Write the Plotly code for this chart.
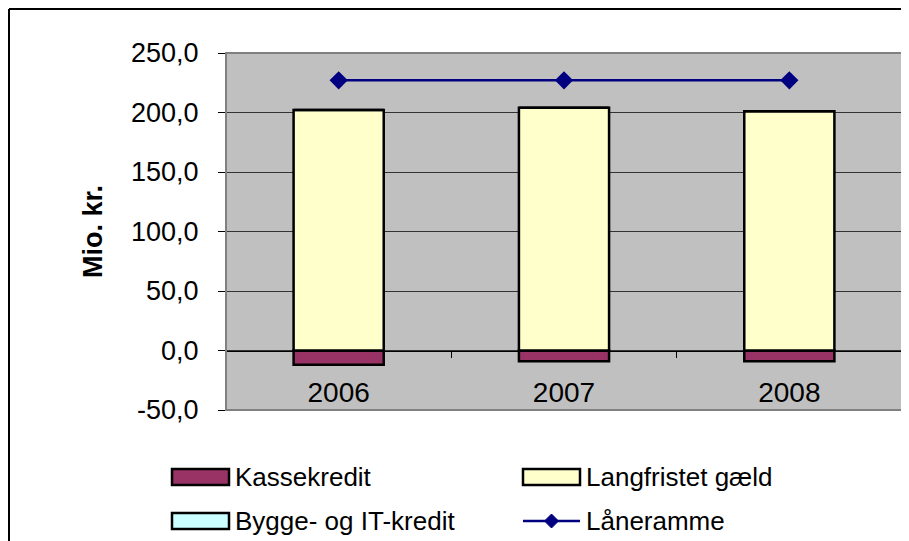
import plotly.graph_objects as go

years = ["2006", "2007", "2008"]
kassekredit = [-12.0, -9.0, -9.0]
langfristet = [202.0, 204.0, 201.0]
bygge_it = [0.0, 0.0, 0.0]
laaneramme = [227.0, 227.0, 227.0]
y_ticks = [-50, 0, 50, 100, 150, 200, 250]
y_ticktext = [f"{v:.1f}".replace(".", ",") for v in y_ticks]
series_names = ["Kassekredit", "Langfristet gæld", "Bygge- og IT-kredit", "Låneramme"]
bar_colors = ["#993366", "#FFFFCC", "#CCFFFF"]
line_color = "#000080"

# the page body adds an 8px margin; the figure is sized to fit the window
OFF = 8
W, H = 909 - OFF, 541 - OFF
L, R, T, B = 226 - OFF, 7, 53 - OFF, 131
PW, PH = W - L - R, H - T - B
ymin, ymax = -50, 250
zero_pos = (0 - ymin) / (ymax - ymin)

FONT = "Liberation Sans, Arial, sans-serif"
bar_line = dict(color="black", width=2.5)


def px_x(x):  # x in window pixels
    return (x - OFF - L) / PW


def px_y(y):  # y in window pixels
    return 1 - (y - OFF - T) / PH


fig = go.Figure()
for vals, name, col in zip([kassekredit, langfristet, bygge_it], series_names[:3], bar_colors):
    fig.add_trace(go.Bar(x=years, y=vals, name=name, showlegend=False,
                         marker=dict(color=col, line=bar_line), width=0.4))
fig.add_trace(go.Scatter(x=years, y=laaneramme, name=series_names[3], mode="lines+markers",
                         showlegend=False,
                         line=dict(color=line_color, width=2.5),
                         marker=dict(symbol="diamond", size=14, color=line_color)))

shapes = [
    dict(type="rect", xref="paper", yref="paper", x0=0, x1=1, y0=0, y1=1,
         line=dict(color="#808080", width=2), layer="above"),
    dict(type="line", xref="paper", yref="paper",
         x0=px_x(9), x1=px_x(915), y0=px_y(9), y1=px_y(9),
         line=dict(color="black", width=2)),
    dict(type="line", xref="paper", yref="paper",
         x0=px_x(9), x1=px_x(9), y0=px_y(545), y1=px_y(9),
         line=dict(color="black", width=2)),
]
annotations = []

# manual legend (Excel style wide swatches), 2 columns x 2 rows
leg_pos = [(172, 477), (523, 477), (172, 521), (523, 521)]
for i, name in enumerate(series_names):
    x0, yc = leg_pos[i]
    if i < 3:
        shapes.append(dict(type="rect", xref="paper", yref="paper",
                           x0=px_x(x0), x1=px_x(x0 + 57),
                           y0=px_y(yc + 8), y1=px_y(yc - 8),
                           fillcolor=bar_colors[i], line=dict(color="black", width=2.5)))
    else:
        shapes.append(dict(type="line", xref="paper", yref="paper",
                           x0=px_x(x0), x1=px_x(x0 + 57), y0=px_y(yc), y1=px_y(yc),
                           line=dict(color=line_color, width=2.5)))
        shapes.append(dict(type="path", xref="paper", yref="paper",
                           xsizemode="pixel", ysizemode="pixel",
                           xanchor=px_x(x0 + 28.5), yanchor=px_y(yc),
                           path="M 0 7 L 7 0 L 0 -7 L -7 0 Z",
                           fillcolor=line_color, line=dict(color=line_color, width=1)))
    annotations.append(dict(text=name, xref="paper", yref="paper",
                            x=px_x(x0 + 61), y=px_y(yc), xanchor="left", yanchor="middle",
                            showarrow=False, font=dict(size=26, family=FONT, color="black")))

fig.update_layout(
    width=W, height=H,
    margin=dict(l=L, r=R, t=T, b=B, pad=0),
    barmode="relative",
    paper_bgcolor="white",
    plot_bgcolor="#C0C0C0",
    font=dict(family=FONT, size=25, color="black"),
    showlegend=False,
    xaxis=dict(anchor="free", position=zero_pos, showline=True, linecolor="black",
               linewidth=1, ticks="outside", tickson="boundaries", ticklen=6,
               tickcolor="black", showgrid=False, ticklabelstandoff=17,
               tickfont=dict(size=28, family=FONT), range=[-0.5, 2.5]),
    yaxis=dict(range=[ymin, ymax], tickvals=y_ticks, ticktext=y_ticktext,
               showline=True, linecolor="black", linewidth=1, ticks="outside",
               ticklen=7, tickcolor="black", showgrid=True, gridcolor="#333333",
               gridwidth=1, zeroline=False, tickfont=dict(size=27, family=FONT),
               ticklabelstandoff=14,
               title=dict(text="<b>Mio. kr.</b>", font=dict(size=27, family=FONT),
                          standoff=20)),
    shapes=shapes,
    annotations=annotations,
)

fig.write_html("out.html")
